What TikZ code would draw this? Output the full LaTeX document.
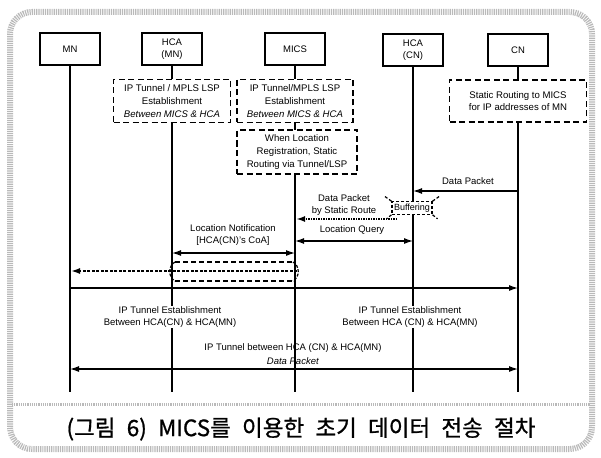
\documentclass[tikz,border=0pt]{standalone}
\usepackage{fontspec}
\setmainfont{Liberation Sans}
\newfontfamily\krfont[FakeBold=0.9]{Noto Sans CJK KR}
\usetikzlibrary{arrows.meta}
\begin{document}
\begin{tikzpicture}[x=1pt,y=-1pt,
  hdr/.style={draw, line width=1.6pt, minimum width=60pt, minimum height=32pt, align=center, fill=white, font=\fontsize{9.5}{11.5}\selectfont},
  dbox/.style={draw, line width=1.7pt, dash pattern=on 6pt off 3.5pt, fill=white, align=center, inner sep=1pt, font=\fontsize{9.6}{12.8}\selectfont},
  life/.style={line width=1.6pt},
  msg/.style={line width=1.2pt, -{Latex[length=9pt,width=6pt]}},
  bimsg/.style={line width=1.2pt, {Latex[length=9pt,width=6pt]}-{Latex[length=9pt,width=6pt]}},
  lbl/.style={font=\fontsize{9.5}{12}\selectfont, align=center, inner sep=1pt},
  frame/.style={gray!55, line width=6pt, dash pattern=on 1.2pt off 1pt}
]
\useasboundingbox (0,0) rectangle (601,457);
% frame
\draw[frame, rounded corners=22pt] (10,12) rectangle (592,449);
\draw[gray!55, line width=3pt, dash pattern=on 1.2pt off 1pt] (12,404) -- (590,404);

% headers
\node[hdr] (mn) at (70,49) {MN};
\node[hdr] (hmn) at (172,49) {HCA\\(MN)};
\node[hdr] (mics) at (295,49) {MICS};
\node[hdr] (hcn) at (413,50) {HCA\\(CN)};
\node[hdr] (cn) at (518,50) {CN};

% lifeline ends
\coordinate (mnE) at (70,392);
\coordinate (hmnE) at (172,392);
\coordinate (micsE) at (295,392);
\coordinate (hcnE) at (413,392);
\coordinate (cnE) at (518,392);
\draw[life] (mn.south) -- (mnE);
\draw[life] (hmn.south) -- (hmnE);
\draw[life] (mics.south) -- (micsE);
\draw[life] (hcn.south) -- (hcnE);
\draw[life] (cn.south) -- (cnE);

% dashed boxes
\node[dbox, minimum width=117pt, minimum height=43pt] (d1) at (172,101)
  {IP Tunnel / MPLS LSP\\Establishment\\\textit{Between MICS \& HCA}};
\node[dbox, minimum width=116pt, minimum height=43pt] (d2) at (295,101)
  {IP Tunnel/MPLS LSP\\Establishment\\\textit{Between MICS \& HCA}};
\node[dbox, minimum width=120pt, minimum height=44pt] (d3) at (297,152)
  {When Location\\Registration, Static\\Routing via Tunnel/LSP};
\node[dbox, minimum width=137pt, minimum height=42pt] (d4) at (518,101)
  {Static Routing to MICS\\for IP addresses of MN};

% Data Packet CN -> HCA(CN)
\coordinate (cn1) at (518,191);
\coordinate (hcn1) at (413,191);
\draw[msg] (cn1) -- (hcn1);
\node[lbl] (ldp) at (468,181) {Data Packet};

% Buffering
\node[draw, line width=1.2pt, dash pattern=on 3pt off 2pt, fill=white, inner sep=2pt, font=\fontsize{9}{10}\selectfont] (buf) at (412,208) {Buffering};
\draw[line width=1.2pt, dash pattern=on 3pt off 2pt] (buf.north west) -- ++(-7,-5);
\draw[line width=1.2pt, dash pattern=on 3pt off 2pt] (buf.north east) -- ++(7,-5);
\draw[line width=1.2pt, dash pattern=on 3pt off 2pt] (buf.south west) -- ++(-5,4);
\draw[line width=1.2pt, dash pattern=on 3pt off 2pt] (buf.south east) -- ++(5,4);

% Data packet by static route
\coordinate (b1) at (397,219);
\coordinate (mics1) at (296,219);
\draw[line width=1.8pt, dash pattern=on 1.5pt off 1pt, -{Latex[length=9pt,width=6pt]}] (b1) -- (mics1);
\node[lbl] (ldp2) at (344,205) {Data Packet\\by Static Route};

% Location Query
\coordinate (mics2) at (295,241);
\coordinate (hcn2) at (413,241);
\draw[bimsg] (mics2) -- (hcn2);
\node[lbl] (llq) at (352,230) {Location Query};

% Location Notification
\coordinate (hmn3) at (172,253);
\coordinate (mics3) at (295,253);
\draw[bimsg] (hmn3) -- (mics3);
\node[lbl] (lln) at (233,235) {Location Notification\\{[HCA(CN)'s CoA]}};

% tunnel tube
\coordinate (t1) at (175,262);
\coordinate (t2) at (293,262);
\coordinate (t3) at (175,281);
\coordinate (t4) at (293,281);
\draw[line width=1.2pt, dash pattern=on 5pt off 3pt] (t1) -- (t2);
\draw[line width=1.2pt, dash pattern=on 5pt off 3pt] (t3) -- (t4);
\draw[line width=1.2pt, dash pattern=on 3pt off 1.5pt] (t1) .. controls (168,266) and (168,277) .. (t3);
\draw[line width=1.2pt, dash pattern=on 3pt off 1.5pt] (t2) .. controls (300,266) and (300,277) .. (t4);
\coordinate (mics4) at (297,271);
\coordinate (mn4) at (71,271);
\draw[line width=1.6pt, dash pattern=on 3pt off 1.5pt, -{Latex[length=9pt,width=6pt]}] (mics4) -- (mn4);

% MN -> CN
\coordinate (mn5) at (70,288);
\coordinate (cn5) at (518,288);
\draw[msg] (mn5) -- (cn5);

% IP Tunnel Establishment labels
\node[lbl, fill=white] (ite1) at (170,317) {IP Tunnel Establishment\\Between HCA(CN) \& HCA(MN)};
\node[lbl, fill=white] (ite2) at (410,317) {IP Tunnel Establishment\\Between HCA (CN) \& HCA(MN)};
\node[lbl] (itb) at (293,348) {IP Tunnel between HCA (CN) \& HCA(MN)};
\node[lbl] (dpi) at (293,361) {\textit{Data Packet}};
\coordinate (mn6) at (70,369);
\coordinate (cn6) at (518,369);
\draw[bimsg] (mn6) -- (cn6);

% caption
\node[font=\krfont\fontsize{22.5}{26}\selectfont] (cap) at (301,429) {\spaceskip=0.5em plus 0.1em (그림 6) MICS를 이용한 초기 데이터 전송 절차};
\end{tikzpicture}
\end{document}
